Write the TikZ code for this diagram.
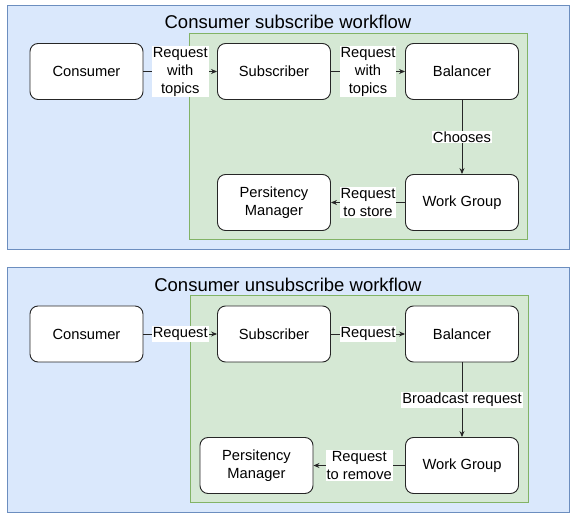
\documentclass[tikz,border=0pt]{standalone}
\usepackage{fontspec}
\setmainfont{Liberation Sans}
\usetikzlibrary{arrows.meta}
\definecolor{bluefill}{HTML}{DAE8FC}
\definecolor{blueline}{HTML}{6C8EBF}
\definecolor{greenfill}{HTML}{D5E8D4}
\definecolor{greenline}{HTML}{82B366}
\tikzset{
  panel/.style={draw=blueline, fill=bluefill, line width=1pt},
  inner/.style={draw=greenline, fill=greenfill, line width=1pt},
  box/.style={draw=black!85, fill=white, rounded corners=8pt, line width=0.9pt,
    minimum width=113pt, minimum height=56pt, inner sep=0pt, align=center,
    font=\fontsize{14.7}{18}\selectfont},
  lbl/.style={fill=white, inner sep=1pt, align=center,
    font=\fontsize{14.7}{18}\selectfont},
  ttl/.style={font=\fontsize{18.5}{22}\selectfont},
  conn/.style={draw=black!85, line width=0.9pt, -{Stealth[length=6pt,width=5pt]}}
}
\begin{document}
\begin{tikzpicture}[x=1pt,y=-1pt]
\useasboundingbox (0,0) rectangle (574,521);
% ---------- top panel ----------
\draw[panel] (7,6) rectangle (569,250);
\draw[inner] (189,34) rectangle (527,240);
\node[ttl] (t1) at (288,22) {Consumer subscribe workflow};
\node[box] (c1) at (86.5,71.5) {Consumer};
\node[box] (s1) at (274,71.5) {Subscriber};
\node[box] (b1) at (462,71.5) {Balancer};
\node[box] (w1) at (462,202.5) {Work Group};
\node[box] (p1) at (274,202.5) {Persitency\\Manager};
\draw[conn] (c1) -- node[lbl] {Request\\with\\topics} (s1);
\draw[conn] (s1) -- node[lbl] {Request\\with\\topics} (b1);
\draw[conn] (b1) -- node[lbl] {Chooses} (w1);
\draw[conn] (w1) -- node[lbl] {Request\\to store} (p1);
% ---------- bottom panel ----------
\draw[panel] (7,268) rectangle (569,513);
\draw[inner] (190,296) rectangle (528,503);
\node[ttl] (t2) at (288,285) {Consumer unsubscribe workflow};
\node[box] (c2) at (86.5,334) {Consumer};
\node[box] (s2) at (274,334) {Subscriber};
\node[box] (b2) at (462,334) {Balancer};
\node[box] (w2) at (462,465.5) {Work Group};
\node[box] (p2) at (256.5,465.5) {Persitency\\Manager};
\draw[conn] (c2) -- node[lbl] {Request} (s2);
\draw[conn] (s2) -- node[lbl] {Request} (b2);
\draw[conn] (b2) -- node[lbl] {Broadcast request} (w2);
\draw[conn] (w2) -- node[lbl] {Request\\to remove} (p2);
\end{tikzpicture}
\end{document}
